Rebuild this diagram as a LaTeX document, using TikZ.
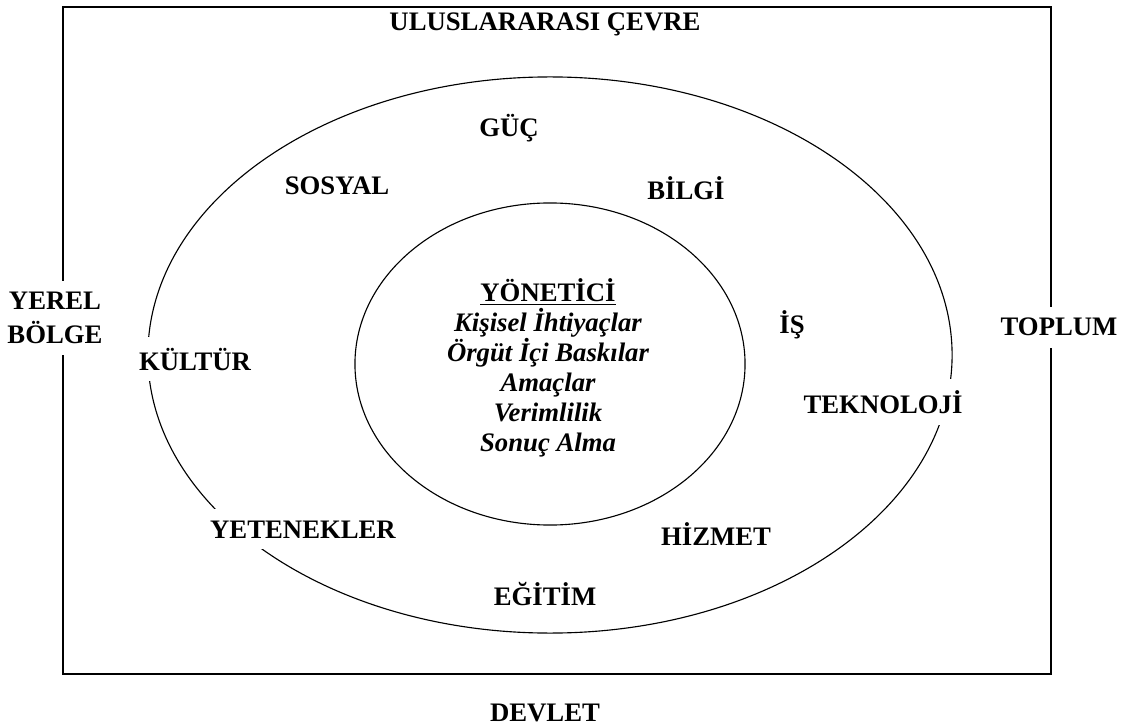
\documentclass[tikz,border=0pt]{standalone}
\usepackage{fontspec}
\setmainfont{Liberation Serif}
\usetikzlibrary{positioning}

\begin{document}
\begin{tikzpicture}[
    x=0.025cm, y=-0.025cm,
    frame/.style={draw, line width=1.3pt},
    ring/.style={draw, line width=0.8pt},
    lbl/.style={fill=white, inner sep=8pt, anchor=base,
                font=\bfseries\fontsize{19}{22}\selectfont},
    core/.style={inner sep=2pt, align=center,
                 font=\bfseries\fontsize{19}{21.3}\selectfont}
]
    \useasboundingbox (0,0) rectangle (1131,728);

    % frame and rings
    \draw[frame] (63,7) rectangle (1051,674);
    \draw[ring] (550,355) ellipse [x radius=10.05cm, y radius=6.95cm];
    \draw[ring] (550,364) ellipse [x radius=4.875cm, y radius=4.025cm];

    % outside the frame
    \node[lbl, fill=none, inner sep=2pt] (cevre) at (545,31) {ULUSLARARASI ÇEVRE};
    \node[lbl, anchor=center, align=center,
          font=\bfseries\fontsize{19}{24}\selectfont] (yerel) at (55,318)
        {YEREL\\BÖLGE};
    \node[lbl] (toplum) at (1059,336) {TOPLUM};
    \node[lbl, inner sep=2pt] (devlet) at (545,721) {DEVLET};

    % outer ring
    \node[lbl] (guc)    at (509,137) {GÜÇ};
    \node[lbl] (sosyal) at (337,195) {SOSYAL};
    \node[lbl] (bilgi)  at (686,200) {BİLGİ};
    \node[lbl] (is)     at (792,333) {İŞ};
    \node[lbl] (kultur) at (195,370) {KÜLTÜR};
    \node[lbl] (tekno)  at (883,413) {TEKNOLOJİ};
    \node[lbl] (yetenek) at (303,538) {YETENEKLER};
    \node[lbl] (hizmet) at (716,545) {HİZMET};
    \node[lbl] (egitim) at (545,605) {EĞİTİM};

    % inner ring
    \node[core] (yonetici) at (548,368)
        {\underline{YÖNETİCİ}\\
         \itshape Kişisel İhtiyaçlar\\
         \itshape Örgüt İçi Baskılar\\
         \itshape Amaçlar\\
         \itshape Verimlilik\\
         \itshape Sonuç Alma};
\end{tikzpicture}
\end{document}
